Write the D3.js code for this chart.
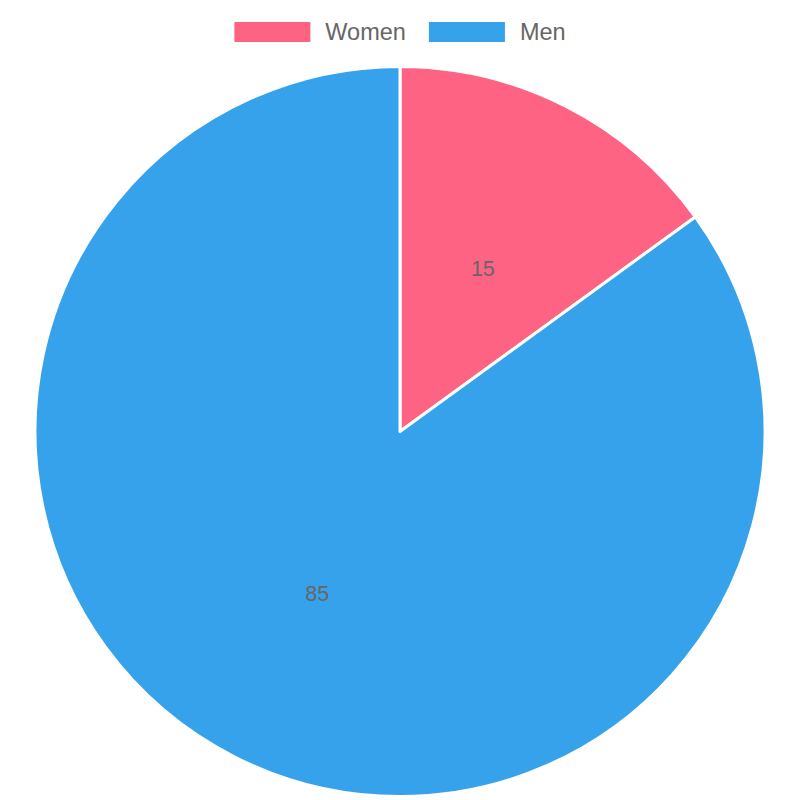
<!DOCTYPE html>
<html>
<head>
<meta charset="utf-8">
<script src="https://cdn.jsdelivr.net/npm/d3@7"></script>
<style>
  html, body { margin: 0; padding: 0; background: #fff; }
  svg { display: block; font-family: "Liberation Sans", Arial, Helvetica, sans-serif; }
</style>
</head>
<body>
<svg id="chart" width="800" height="800"></svg>
<script>
// Pie chart: share of women vs men

const labels = ["Women", "Men"];
const values = [15, 85];
const colors = ["#FF6384", "#36A2EB"];

const svg = d3.select("#chart");
const W = 800;

const cx = 400, cy = 431.5, radius = 365;

const pie = d3.pie().sort(null).value(d => d.value);
const arcs = pie(labels.map((l, i) => ({ label: l, value: values[i], color: colors[i] })));

const arc = d3.arc().innerRadius(0).outerRadius(radius);
const labelArc = d3.arc().innerRadius(radius / 2).outerRadius(radius / 2);

const g = svg.append("g").attr("transform", `translate(${cx},${cy})`);

g.selectAll("path")
  .data(arcs)
  .enter()
  .append("path")
  .attr("d", arc)
  .attr("fill", d => d.data.color)
  .attr("stroke", "#fff")
  .attr("stroke-width", 3)
  .attr("stroke-linejoin", "round");

g.selectAll("text.val")
  .data(arcs)
  .enter()
  .append("text")
  .attr("class", "val")
  .attr("x", d => labelArc.centroid(d)[0])
  .attr("y", d => labelArc.centroid(d)[1])
  .attr("text-anchor", "middle")
  .attr("dominant-baseline", "central")
  .attr("fill", "#666")
  .attr("font-size", 21.5)
  .text(d => d.data.value);

// Legend, centered at the top
const boxW = 76, boxH = 20, boxGap = 15, itemGap = 23, fontSize = 23.5;
const legend = svg.append("g");
const items = legend.selectAll("g")
  .data(labels)
  .enter()
  .append("g");

items.append("rect")
  .attr("width", boxW)
  .attr("height", boxH)
  .attr("y", 22)
  .attr("fill", (d, i) => colors[i]);

items.append("text")
  .attr("x", boxW + boxGap)
  .attr("y", 32)
  .attr("dominant-baseline", "central")
  .attr("fill", "#666")
  .attr("font-size", fontSize)
  .text(d => d);

let x = 0;
const offsets = [];
items.each(function () {
  const tw = d3.select(this).select("text").node().getComputedTextLength();
  offsets.push(x);
  x += boxW + boxGap + tw + itemGap;
});
const total = x - itemGap;
items.attr("transform", (d, i) => `translate(${(W - total) / 2 + offsets[i]},0)`);
</script>
</body>
</html>
